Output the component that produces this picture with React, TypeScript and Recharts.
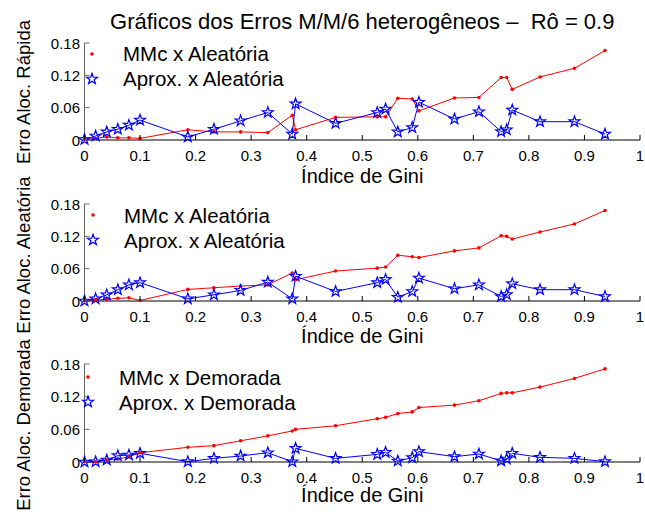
import React from 'react';
import { LineChart, Line, XAxis, YAxis, Legend } from 'recharts';

// Gini index values (shared by all three panels)
const gini = [0, 0.02, 0.04, 0.06, 0.08, 0.1, 0.186, 0.233, 0.281, 0.33, 0.374, 0.38, 0.452,
  0.527, 0.542, 0.564, 0.59, 0.602, 0.666, 0.71, 0.75, 0.76, 0.77, 0.82, 0.882, 0.937];

const mmcRapida = [0.001, 0.003, 0.0056, 0.004, 0.004, 0.003, 0.019, 0.015, 0.015, 0.0137, 0.046, 0.019, 0.042,
  0.043, 0.043, 0.0775, 0.076, 0.054, 0.078, 0.079, 0.116, 0.116, 0.094, 0.117, 0.133, 0.166];
const aproxRapida = [0.001, 0.0075, 0.015, 0.02, 0.0275, 0.037, 0.0056, 0.02, 0.0356, 0.051, 0.011, 0.067, 0.031,
  0.051, 0.0575, 0.015, 0.023, 0.07, 0.039, 0.0525, 0.0156, 0.019, 0.0557, 0.034, 0.034, 0.011];

const mmcAleatoria = [0, 0.002, 0.003, 0.005, 0.006, 0.001, 0.0215, 0.0246, 0.0277, 0.03, 0.052, 0.0395, 0.0556,
  0.061, 0.063, 0.085, 0.082, 0.0806, 0.093, 0.0985, 0.121, 0.12, 0.115, 0.128, 0.143, 0.168];
const aproxAleatoria = [0, 0.004, 0.0115, 0.021, 0.03, 0.034, 0.004, 0.0115, 0.0196, 0.035, 0.004, 0.046, 0.0177,
  0.034, 0.04, 0.007, 0.0177, 0.0425, 0.0228, 0.03, 0.0084, 0.012, 0.032, 0.021, 0.021, 0.0084];

const mmcDemorada = [0.0005, 0.0005, 0.004, 0.0055, 0.0098, 0.017, 0.027, 0.03, 0.039, 0.048, 0.057, 0.06, 0.0666,
  0.0795, 0.082, 0.089, 0.092, 0.1, 0.1045, 0.1125, 0.126, 0.127, 0.127, 0.1376, 0.1535, 0.171];
const aproxDemorada = [0, 0.0005, 0.0037, 0.0116, 0.0128, 0.016, 0.0006, 0.0067, 0.011, 0.017, 0.0005, 0.025, 0.0067,
  0.014, 0.0177, 0.0018, 0.008, 0.019, 0.0098, 0.0147, 0.002, 0.0055, 0.016, 0.0086, 0.0067, 0.0006];

const xTicks = [0, 0.1, 0.2, 0.3, 0.4, 0.5, 0.6, 0.7, 0.8, 0.9, 1];
const xTickLabels = ['0', '0.1', '0.2', '0.3', '0.4', '0.5', '0.6', '0.7', '0.8', '0.9', '1'];
const yTicks = [0, 0.06, 0.12, 0.18];
const yTickLabels = ['0', '0.06', '0.12', '0.18'];

const FONT = '"Liberation Sans", Arial, Helvetica, sans-serif';
const RED = '#ff0000';
const BLUE = '#0000ff';

function starPath(cx: number, cy: number, R: number) {
  const r = R * 0.4;
  let d = '';
  for (let i = 0; i < 10; i++) {
    const a = -Math.PI / 2 + (i * Math.PI) / 5;
    const rad = i % 2 === 0 ? R : r;
    d += (i === 0 ? 'M' : 'L') + (cx + rad * Math.cos(a)).toFixed(2) + ',' + (cy + rad * Math.sin(a)).toFixed(2);
  }
  return d + 'Z';
}

const RedDot = (p: any) =>
  p.cy == null ? <g key={`r${p.index}`} /> : <circle key={`r${p.index}`} cx={p.cx} cy={p.cy} r={1.8} fill={RED} />;

const StarDot = (p: any) =>
  p.cy == null ? <g key={`s${p.index}`} /> : (
    <path key={`s${p.index}`} d={starPath(p.cx, p.cy, 5.7)} fill="none" stroke={BLUE} strokeWidth={1.2} />
  );

const XTick = (p: any) => {
  const i = xTicks.indexOf(p.payload.value);
  return (
    <g>
      <line x1={p.x} y1={p.y} x2={p.x} y2={p.y - 5} stroke="#000" />
      <text x={p.x} y={p.y + 15} textAnchor="middle" dominantBaseline="central" fontSize={15} fontFamily={FONT} fill="#000">
        {xTickLabels[i]}
      </text>
    </g>
  );
};

const YTick = (p: any) => {
  const i = yTicks.indexOf(p.payload.value);
  return (
    <g>
      <line x1={p.x} y1={p.y} x2={p.x + 5} y2={p.y} stroke="#666" />
      <text x={p.x - 4.5} y={p.y} textAnchor="end" dominantBaseline="central" fontSize={15} fontFamily={FONT} fill="#000">
        {yTickLabels[i]}
      </text>
    </g>
  );
};

type PanelProps = {
  plotTop: number;
  plotH: number;
  mmc: number[];
  aprox: number[];
  names: string[];
  legendX: number;
  legendY: number;
};

function Panel({ plotTop, plotH, mmc, aprox, names, legendX, legendY }: PanelProps) {
  const data = gini.map((g, i) => ({ g, mmc: mmc[i], aprox: aprox[i] }));
  const top = plotTop - 10;
  const ly = legendY - top;
  const legend = () => (
    <div style={{ position: 'relative', width: 0, height: 0 }}>
      {[0, 1].map((k) => (
        <React.Fragment key={k}>
          <svg
            width={16}
            height={16}
            style={{ position: 'absolute', left: legendX - 8, top: ly + k * 25 - 8, overflow: 'visible' }}
          >
            {k === 0 ? (
              <circle cx={8} cy={8} r={1.8} fill={RED} />
            ) : (
              <path d={starPath(8, 8, 5.7)} fill="none" stroke={BLUE} strokeWidth={1.2} />
            )}
          </svg>
          <div
            style={{
              position: 'absolute',
              left: legendX + 31,
              top: ly + k * 25 + 1 - 10.25,
              fontSize: 20.5,
              lineHeight: '20.5px',
              fontFamily: FONT,
              whiteSpace: 'nowrap',
              color: '#000',
            }}
          >
            {names[k]}
          </div>
        </React.Fragment>
      ))}
    </div>
  );
  return (
    <div style={{ position: 'absolute', left: 0, top }}>
      <LineChart width={645} height={10 + plotH + 30} data={data} margin={{ top: 10, right: 5, bottom: 0, left: 0 }}>
        <XAxis
          dataKey="g"
          type="number"
          domain={[0, 1]}
          ticks={xTicks}
          interval={0}
          tick={XTick}
          tickLine={false}
          tickSize={0}
          tickMargin={0}
          axisLine={{ stroke: '#000' }}
          height={30}
        />
        <YAxis
          type="number"
          domain={[0, 0.18]}
          ticks={yTicks}
          interval={0}
          tick={YTick}
          tickLine={false}
          tickSize={0}
          tickMargin={0}
          axisLine={{ stroke: '#666' }}
          width={84.5}
        />
        <Legend
          layout="horizontal"
          verticalAlign="middle"
          align="center"
          content={legend}
          wrapperStyle={{ left: 0, top: 0, width: 0, height: 0 }}
        />
        <Line dataKey="mmc" stroke={RED} strokeWidth={1} dot={RedDot} activeDot={false} isAnimationActive={false} />
        <Line dataKey="aprox" stroke={BLUE} strokeWidth={1} dot={StarDot} activeDot={false} isAnimationActive={false} />
      </LineChart>
    </div>
  );
}

const textBase: React.CSSProperties = {
  position: 'absolute',
  fontFamily: FONT,
  color: '#000',
  whiteSpace: 'nowrap',
};

function YLabel({ text, cy }: { text: string; cy: number }) {
  return (
    <div
      style={{
        ...textBase,
        left: 24,
        top: cy,
        fontSize: 18.5,
        lineHeight: '18.5px',
        transform: 'translate(-50%, -50%) rotate(-90deg)',
      }}
    >
      {text}
    </div>
  );
}

function XLabel({ cy }: { cy: number }) {
  return (
    <div style={{ ...textBase, left: 84.5, width: 555.5, textAlign: 'center', top: cy - 10, fontSize: 20, lineHeight: '20px' }}>
      Índice de Gini
    </div>
  );
}

export default function App() {
  return (
    <div style={{ position: 'absolute', left: 0, top: 0, width: 645, height: 527, background: '#fff', overflow: 'hidden' }}>
      <div style={{ ...textBase, left: 84.5, width: 555.5, textAlign: 'center', top: 11, fontSize: 22, lineHeight: '22px' }}>
        Gráficos dos Erros M/M/6 heterogêneos –&nbsp; Rô = 0.9
      </div>
      <Panel
        plotTop={43}
        plotH={97}
        mmc={mmcRapida}
        aprox={aproxRapida}
        names={['MMc x Aleatória', 'Aprox. x Aleatória']}
        legendX={92}
        legendY={53.5}
      />
      <Panel
        plotTop={204}
        plotH={97}
        mmc={mmcAleatoria}
        aprox={aproxAleatoria}
        names={['MMc x Aleatória', 'Aprox. x Aleatória']}
        legendX={93}
        legendY={215}
      />
      <Panel
        plotTop={364}
        plotH={98}
        mmc={mmcDemorada}
        aprox={aproxDemorada}
        names={['MMc x Demorada', 'Aprox. x Demorada']}
        legendX={88}
        legendY={377}
      />
      <YLabel text="Erro Aloc. Rápida" cy={91.5} />
      <YLabel text="Erro Aloc. Aleatória" cy={255} />
      <YLabel text="Erro Aloc. Demorada" cy={425} />
      <XLabel cy={176} />
      <XLabel cy={336} />
      <XLabel cy={495} />
    </div>
  );
}
